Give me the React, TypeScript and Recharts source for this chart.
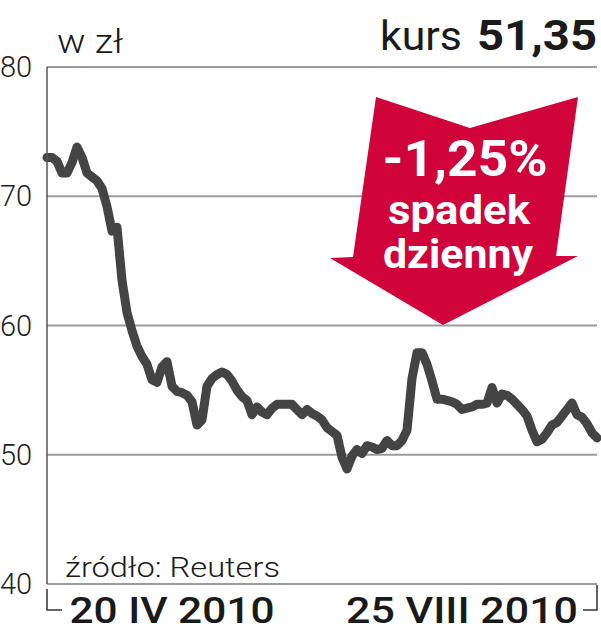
import { CartesianGrid, Line, LineChart, XAxis, YAxis } from "recharts";

// kurs akcji, odczyt co ok. jeden dzień sesyjny
const PRICES = [
  73.0, 73.0, 72.7, 71.8, 71.8, 72.6, 73.8, 73.0, 71.8, 71.5,
  71.2, 70.6, 69.2, 67.3, 67.6, 63.5, 61.0, 59.6, 58.4, 57.6,
  57.0, 55.8, 55.6, 56.8, 57.2, 55.3, 54.9, 54.8, 54.6, 54.1,
  52.3, 52.7, 55.3, 55.9, 56.2, 56.4, 56.2, 55.7, 55.0, 54.5,
  54.2, 53.1, 53.7, 53.3, 53.1, 53.6, 53.9, 53.9, 53.9, 53.9,
  53.5, 53.1, 53.5, 53.2, 53.0, 52.7, 52.1, 51.8, 51.5, 49.8,
  48.9, 49.9, 50.4, 50.1, 50.7, 50.6, 50.4, 50.5, 51.1, 50.7,
  50.7, 51.1, 51.9, 55.9, 57.9, 57.9, 57.0, 55.7, 54.3, 54.3,
  54.2, 54.1, 53.9, 53.5, 53.6, 53.7, 53.9, 53.9, 54.0, 55.2,
  54.0, 54.7, 54.6, 54.3, 53.9, 53.5, 53.0, 51.9, 51.0, 51.2,
  51.7, 52.3, 52.5, 53.0, 53.5, 54.0, 53.1, 52.9, 52.4, 51.7,
  51.3,
];

const Y_TICKS = [40, 50, 60, 70, 80];
const DATE_LABELS = ["20 IV 2010", "25 VIII 2010"];
const DATE_INDEX = [25, 83];
const DATE_WIDTH = [205, 232];

const data = PRICES.map((v, i) => ({ i, v }));

const LIGHT = "Roboto, 'Noto Sans', sans-serif";
const RED = "#d0033b";

const YTick = (props: any) => (
  <text x={0} y={props.y} dy={10} fontSize={29} fontFamily={LIGHT} fontWeight={300} fill="#222">
    {props.payload.value}
  </text>
);

const XTick = (props: any) => {
  const k = DATE_INDEX.indexOf(props.payload.value);
  if (k < 0) return null;
  return (
    <text
      x={props.x}
      y={623}
      textAnchor="middle"
      fontSize={37}
      fontFamily={LIGHT}
      fontWeight={500}
      fill="#1a1a1a"
      textLength={DATE_WIDTH[k]}
      lengthAdjust="spacingAndGlyphs"
    >
      {DATE_LABELS[k]}
    </text>
  );
};

export default function App() {
  return (
    <div style={{ position: "absolute", left: 0, top: 0, width: 601, height: 640, background: "#fff" }}>
      <LineChart width={601} height={640} data={data} margin={{ top: 67, right: 4, bottom: 0, left: 0 }}>
        <CartesianGrid vertical={false} stroke="#9c9c9c" strokeWidth={2} />
        <XAxis
          dataKey="i"
          height={56}
          ticks={DATE_INDEX}
          interval={0}
          axisLine={{ stroke: "#9c9c9c", strokeWidth: 2 }}
          tickLine={false}
          tick={<XTick />}
        />
        <YAxis
          width={47}
          domain={[40, 80]}
          ticks={Y_TICKS}
          interval={0}
          axisLine={{ stroke: "#555", strokeWidth: 1.5 }}
          tickLine={false}
          tick={<YTick />}
        />
        <Line
          type="linear"
          dataKey="v"
          stroke="#444"
          strokeWidth={9}
          strokeLinejoin="round"
          strokeLinecap="round"
          dot={false}
          isAnimationActive={false}
        />
      </LineChart>
      <svg
        width={601}
        height={640}
        style={{ position: "absolute", left: 0, top: 0, pointerEvents: "none" }}
      >
        <text x={57} y={53} fontSize={33} fontFamily={LIGHT} fontWeight={300} fill="#1a1a1a" textLength={66} lengthAdjust="spacingAndGlyphs">
          w zł
        </text>
        <text x={380} y={50} fontSize={40} fontFamily={LIGHT} fill="#1a1a1a" textLength={82} lengthAdjust="spacingAndGlyphs">
          kurs
        </text>
        <text x={477} y={50} fontSize={43} fontFamily={LIGHT} fontWeight={700} fill="#1a1a1a" textLength={120} lengthAdjust="spacingAndGlyphs">
          51,35
        </text>
        <polygon points="376,97 470,128 578,97 556,256 578,256 443,325 330,258 353,257" fill={RED} />
        <text x={465} y={176} textAnchor="middle" fontSize={50} fontFamily={LIGHT} fontWeight={700} fill="#fff" textLength={165} lengthAdjust="spacingAndGlyphs">
          -1,25%
        </text>
        <text x={459} y={224} textAnchor="middle" fontSize={40} fontFamily={LIGHT} fontWeight={700} fill="#fff" textLength={142} lengthAdjust="spacingAndGlyphs">
          spadek
        </text>
        <text x={458} y={268} textAnchor="middle" fontSize={40} fontFamily={LIGHT} fontWeight={700} fill="#fff" textLength={150} lengthAdjust="spacingAndGlyphs">
          dzienny
        </text>
        <text x={65} y={577} fontSize={28} fontFamily={LIGHT} fontWeight={300} fill="#1a1a1a" textLength={215} lengthAdjust="spacingAndGlyphs">
          źródło: Reuters
        </text>
        <path d="M47,589 V610 H62" fill="none" stroke="#333" strokeWidth={1.5} />
        <path d="M583,610 H597 V585" fill="none" stroke="#333" strokeWidth={1.5} />
      </svg>
    </div>
  );
}
